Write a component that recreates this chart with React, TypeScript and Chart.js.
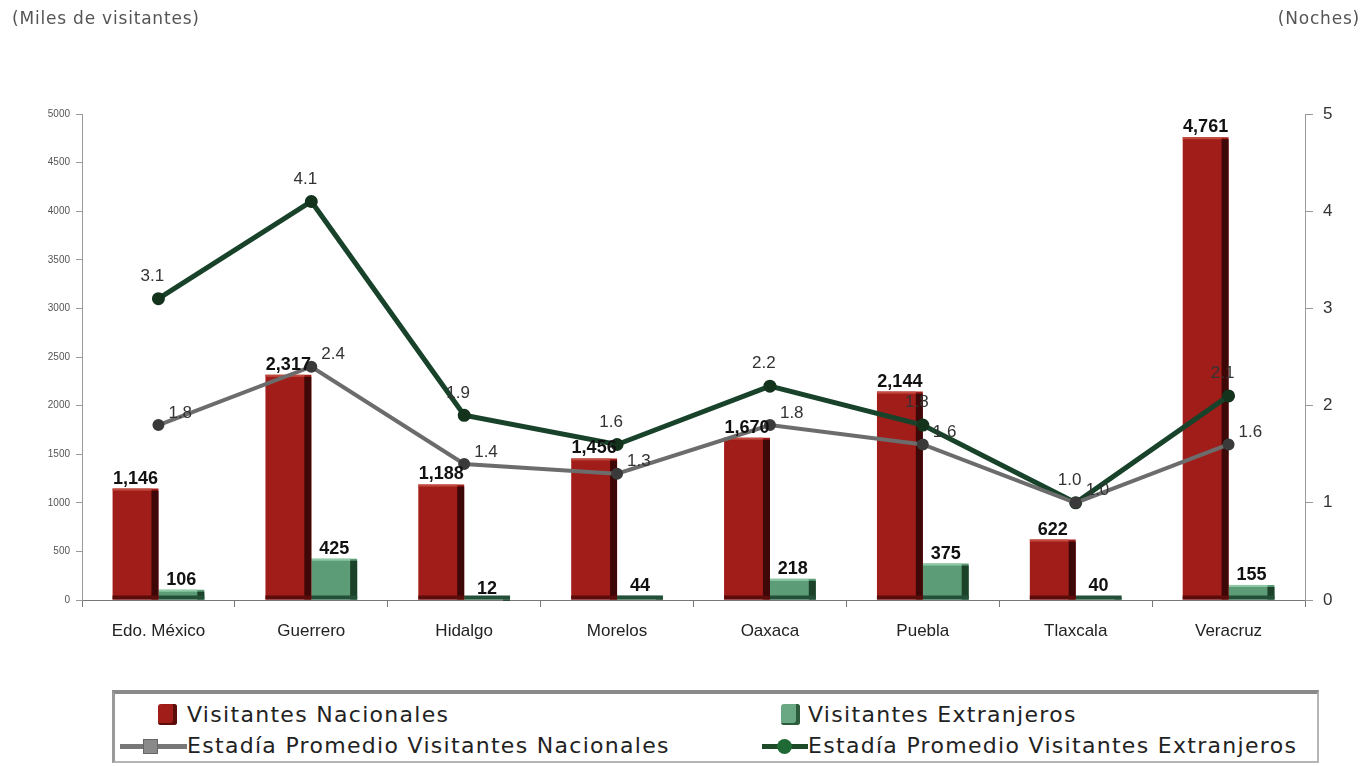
import React, { useEffect, useRef } from "react";
import { Chart, registerables } from "chart.js";

Chart.register(...registerables);

const categories = ["Edo. México", "Guerrero", "Hidalgo", "Morelos", "Oaxaca", "Puebla", "Tlaxcala", "Veracruz"];
const visitantesNacionales = [1146, 2317, 1188, 1456, 1670, 2144, 622, 4761];
const visitantesExtranjeros = [106, 425, 12, 44, 218, 375, 40, 155];
const estadiaNacionales = [1.8, 2.4, 1.4, 1.3, 1.8, 1.6, 1.0, 1.6];
const estadiaExtranjeros = [3.1, 4.1, 1.9, 1.6, 2.2, 1.8, 1.0, 2.1];

const leftTicks = [0, 500, 1000, 1500, 2000, 2500, 3000, 3500, 4000, 4500, 5000];
const rightTicks = [0, 1, 2, 3, 4, 5];

const W = 1366;
const H = 665;

const barShadowPlugin = {
  id: "barShadow",
  afterDatasetDraw(chart: any, args: any) {
    const idx = args.index;
    if (idx > 1) return;
    const ctx = chart.ctx;
    const meta = chart.getDatasetMeta(idx);
    ctx.save();
    meta.data.forEach((el: any) => {
      const right = el.x + el.width / 2;
      const top = el.y;
      const base = el.base;
      const h = base - top;
      const sw = 7;
      ctx.fillStyle = idx === 0 ? "#3d0807" : "#1c4229";
      ctx.fillRect(right - sw, top + 2, sw, h - 2);
      ctx.fillStyle = idx === 0 ? "#5a0d0b" : "#24503a";
      ctx.fillRect(el.x - el.width / 2, base - 4, el.width, 4);
      if (h > 4) {
        ctx.fillStyle = idx === 0 ? "#c24a3e" : "#8fcaa6";
        ctx.fillRect(el.x - el.width / 2, top, el.width - sw, 2);
      }
    });
    ctx.restore();
  },
};

const labelPlugin = {
  id: "valueLabels",
  afterDatasetsDraw(chart: any) {
    const ctx = chart.ctx;
    ctx.save();
    [0, 1].forEach((di) => {
      const meta = chart.getDatasetMeta(di);
      const values = chart.data.datasets[di].data;
      meta.data.forEach((el: any, i: number) => {
        ctx.font = "bold 18px Arial";
        ctx.fillStyle = "#111";
        ctx.textAlign = "center";
        ctx.textBaseline = "bottom";
        ctx.fillText(Number(values[i]).toLocaleString("en-US"), el.x, el.y - 1);
      });
    });
    // Nacionales (gray) labels
    {
      const meta = chart.getDatasetMeta(2);
      const values = chart.data.datasets[2].data;
      meta.data.forEach((el: any, i: number) => {
        ctx.font = "17px Arial";
        ctx.fillStyle = "#333";
        ctx.textAlign = "left";
        ctx.textBaseline = "middle";
        ctx.fillText(Number(values[i]).toFixed(1), el.x + 10, el.y - 12);
      });
    }
    // Extranjeros (green) labels
    {
      const meta = chart.getDatasetMeta(3);
      const values = chart.data.datasets[3].data;
      meta.data.forEach((el: any, i: number) => {
        ctx.font = "17px Arial";
        ctx.fillStyle = "#333";
        ctx.textAlign = "center";
        ctx.textBaseline = "bottom";
        ctx.fillText(Number(values[i]).toFixed(1), el.x - 6, el.y - 14);
      });
    }
    ctx.restore();
  },
};

function ChartCanvas() {
  const ref = useRef<HTMLCanvasElement | null>(null);
  useEffect(() => {
    if (!ref.current) return;
    const chart = new Chart(ref.current, {
      type: "bar",
      data: {
        labels: categories,
        datasets: [
          {
            type: "bar",
            label: "Visitantes Nacionales",
            data: visitantesNacionales,
            backgroundColor: "#a11d19",
            yAxisID: "y",
            order: 2,
            categoryPercentage: 0.6,
            barPercentage: 1.0,
          } as any,
          {
            type: "bar",
            label: "Visitantes Extranjeros",
            data: visitantesExtranjeros,
            backgroundColor: "#5c9c76",
            yAxisID: "y",
            order: 2,
            categoryPercentage: 0.6,
            barPercentage: 1.0,
          } as any,
          {
            type: "line",
            label: "Estadía Promedio Visitantes Nacionales",
            data: estadiaNacionales,
            borderColor: "#6c6c6c",
            borderWidth: 4,
            pointRadius: 4,
            pointBackgroundColor: "#3a3a3a",
            pointBorderColor: "#3a3a3a",
            yAxisID: "y1",
            order: 0,
            tension: 0,
          } as any,
          {
            type: "line",
            label: "Estadía Promedio Visitantes Extranjeros",
            data: estadiaExtranjeros,
            borderColor: "#18422a",
            borderWidth: 5,
            pointRadius: 4,
            pointBackgroundColor: "#14331d",
            pointBorderColor: "#14331d",
            yAxisID: "y1",
            order: 0,
            tension: 0,
          } as any,
        ],
      },
      options: {
        animation: false,
        responsive: false,
        maintainAspectRatio: false,
        layout: { padding: { top: 114, left: 0, right: 0, bottom: 0 } },
        plugins: {
          legend: { display: false },
          tooltip: { enabled: false },
          title: { display: false },
        },
        scales: {
          x: {
            offset: true,
            grid: { display: true, drawOnChartArea: false, drawTicks: true, tickLength: 7, color: "#777", offset: true },
            border: { display: true, color: "#777", width: 1 },
            ticks: { color: "#222", font: { family: "Arial", size: 17 }, padding: 14, maxRotation: 0 },
            afterFit: (s: any) => {
              s.height = H - 600;
            },
          },
          y: {
            type: "linear",
            position: "left",
            min: 0,
            max: 5000,
            afterBuildTicks: (s: any) => {
              s.ticks = leftTicks.map((v) => ({ value: v }));
            },
            grid: { drawOnChartArea: false, drawTicks: true, tickLength: 6, color: "#999" },
            border: { display: true, color: "#999" },
            ticks: { color: "#555", font: { family: "Arial", size: 10 }, padding: 6, callback: (v: any) => String(v) },
            afterFit: (s: any) => {
              s.width = 82;
            },
          },
          y1: {
            type: "linear",
            position: "right",
            min: 0,
            max: 5,
            afterBuildTicks: (s: any) => {
              s.ticks = rightTicks.map((v) => ({ value: v }));
            },
            grid: { drawOnChartArea: false, drawTicks: true, tickLength: 8, color: "#999" },
            border: { display: true, color: "#999" },
            ticks: { color: "#333", font: { family: "Arial", size: 17 }, padding: 10 },
            afterFit: (s: any) => {
              s.width = W - 1305;
            },
          },
        },
      },
      plugins: [barShadowPlugin, labelPlugin],
    });
    return () => chart.destroy();
  }, []);
  return <canvas ref={ref} width={W} height={H} style={{ position: "absolute", left: 0, top: 0, width: W, height: H }} />;
}

const legendFont = "'DejaVu Sans', sans-serif";

function Legend() {
  const text = (label: string, left: number, top: number) => (
    <div
      style={{
        position: "absolute",
        left,
        top: top - 15,
        height: 30,
        lineHeight: "30px",
        fontFamily: legendFont,
        fontSize: 22,
        letterSpacing: 1.3,
        color: "#222",
        whiteSpace: "nowrap",
      }}
    >
      {label}
    </div>
  );
  return (
    <>
      <div
        style={{
          position: "absolute",
          left: 112,
          top: 690,
          width: 1207,
          height: 73,
          boxSizing: "border-box",
          borderTop: "4px solid #8a8a8a",
          borderLeft: "3px solid #9a9a9a",
          borderRight: "2px solid #b5b5b5",
          borderBottom: "2px solid #b5b5b5",
          background: "#fff",
        }}
      />
      <div style={{ position: "absolute", left: 158, top: 704, width: 19, height: 21, background: "#a11d19", borderRadius: 3, boxShadow: "inset -4px -2px 0 #5a0d0b" }} />
      {text("Visitantes Nacionales", 187, 715)}
      <div style={{ position: "absolute", left: 781, top: 704, width: 19, height: 21, background: "#6aa883", borderRadius: 3, boxShadow: "inset -4px -2px 0 #2c5c3c" }} />
      {text("Visitantes Extranjeros", 808, 715)}
      <div style={{ position: "absolute", left: 120, top: 744, width: 67, height: 5, background: "#777" }} />
      <div style={{ position: "absolute", left: 143, top: 739, width: 15, height: 15, background: "#8a8a8a", border: "1px solid #666", boxSizing: "border-box" }} />
      {text("Estadía Promedio Visitantes Nacionales", 187, 746)}
      <div style={{ position: "absolute", left: 762, top: 744, width: 46, height: 5, background: "#1d4b2a" }} />
      <div style={{ position: "absolute", left: 777, top: 739, width: 15, height: 15, background: "#1f6a34", borderRadius: "50%" }} />
      {text("Estadía Promedio Visitantes Extranjeros", 808, 746)}
    </>
  );
}

export default function App() {
  return (
    <div style={{ position: "absolute", left: 0, top: 0, width: W, height: 766, background: "#fff", overflow: "hidden" }}>
      <ChartCanvas />
      <div style={{ position: "absolute", left: 12, top: 8, fontFamily: "'DejaVu Sans', sans-serif", fontSize: 17, color: "#555", letterSpacing: 0.8, whiteSpace: "nowrap" }}>
        (Miles de visitantes)
      </div>
      <div style={{ position: "absolute", right: 6, top: 8, fontFamily: "'DejaVu Sans', sans-serif", fontSize: 17, color: "#555", letterSpacing: 0.8, whiteSpace: "nowrap" }}>
        (Noches)
      </div>
      <Legend />
    </div>
  );
}
